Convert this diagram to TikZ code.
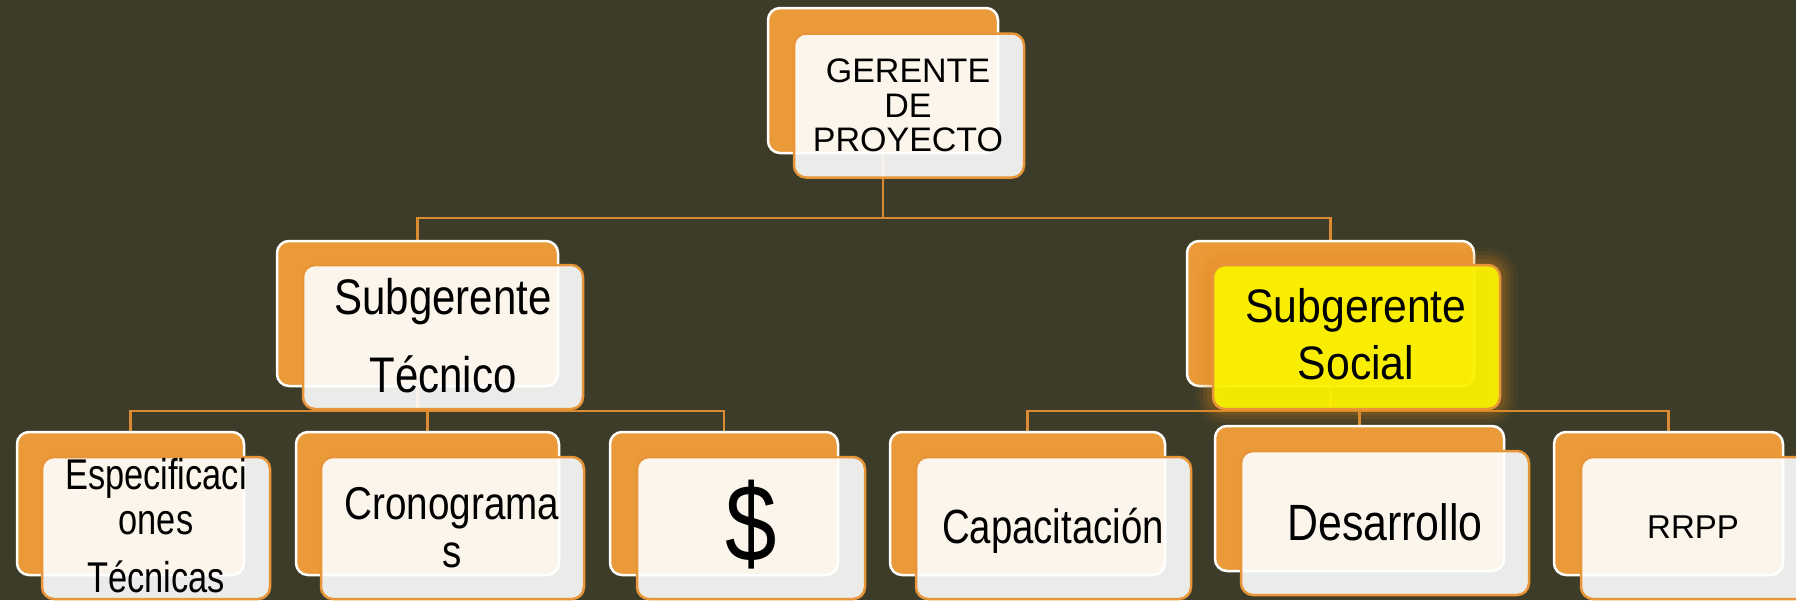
\documentclass[tikz,border=0pt]{standalone}
\usepackage{fontspec}
\setmainfont{Liberation Sans}
\newfontfamily\fA{Liberation Sans}
\newfontfamily\fB[FakeStretch=0.84]{Liberation Sans}
\newfontfamily\fC[FakeStretch=0.91]{Liberation Sans}
\newfontfamily\fD[FakeStretch=0.8]{Liberation Sans}
\definecolor{bgc}{HTML}{3C3C28}
\definecolor{orfill}{HTML}{EA9A38}
\definecolor{orline}{HTML}{E8953A}
\definecolor{conc}{HTML}{DA8A30}
\definecolor{yel}{HTML}{FAF200}
\definecolor{glowc}{HTML}{E88A1A}
\pgfdeclarelayer{backlayer}
\pgfdeclarelayer{connlayer}
\pgfsetlayers{backlayer,connlayer,main}
\tikzset{
  backbox/.style={draw=white, line width=2.5pt, fill=orfill, rounded corners=12pt, inner sep=0pt, minimum height=145pt},
  frontbox/.style={draw=orline, line width=2.5pt, fill=white, fill opacity=0.9, rounded corners=12pt, inner sep=0pt, minimum height=144pt},
  lowback/.style={backbox, minimum height=143pt},
  lowfront/.style={frontbox, minimum height=142pt},
  lbl/.style={inner sep=0pt, anchor=base, text=black},
  conn/.style={draw=conc, line width=2.8pt},
  glowbox/.style={frontbox, fill=yel, fill opacity=0.95,
    preaction={draw=glowc, line width=36pt, draw opacity=0.05},
    preaction={draw=glowc, line width=28pt, draw opacity=0.07},
    preaction={draw=glowc, line width=20pt, draw opacity=0.1},
    preaction={draw=glowc, line width=12pt, draw opacity=0.14}},
}
\begin{document}
\begin{tikzpicture}[x=1pt,y=-1pt]
\useasboundingbox (0,0) rectangle (1796,600);
\begin{pgfonlayer}{backlayer}
\fill[bgc] (0,0) rectangle (1796,600);
\end{pgfonlayer}
\coordinate (bus1) at (0,218);
\coordinate (bus2) at (0,411);
% level 1
\node[backbox, minimum width=230pt] (gb) at (883,80.5) {};
\node[frontbox, minimum width=230pt] (gf) at (909,105.5) {};
\node[lbl, font=\fA\fontsize{34}{34}\selectfont] (g1) at (908,82) {GERENTE};
\node[lbl, font=\fA\fontsize{34}{34}\selectfont] (g2) at (908,117) {DE};
\node[lbl, font=\fA\fontsize{34}{34}\selectfont] (g3) at (908,151) {PROYECTO};
% level 2
\node[backbox, minimum width=281pt] (stb) at (417.5,313.5) {};
\node[frontbox, minimum width=280pt] (stf) at (443,337) {};
\node[lbl, font=\fB\fontsize{50}{50}\selectfont] (st1) at (443,314) {Subgerente};
\node[lbl, font=\fB\fontsize{50}{50}\selectfont] (st2) at (443,392) {Técnico};
\node[backbox, minimum width=287pt] (ssb) at (1330.5,313.5) {};
\node[glowbox, minimum width=287pt] (ssf) at (1356.5,337) {};
\node[lbl, font=\fC\fontsize{47}{47}\selectfont] (ss1) at (1356,322) {Subgerente};
\node[lbl, font=\fC\fontsize{47}{47}\selectfont] (ss2) at (1356,379) {Social};
% level 3
\node[lowback, minimum width=227pt] (eb) at (130.5,503.5) {};
\node[lowfront, minimum width=228pt] (ef) at (156,528) {};
\node[lbl, font=\fD\fontsize{43}{43}\selectfont] (e1) at (156,489) {Especificaci};
\node[lbl, font=\fD\fontsize{43}{43}\selectfont] (e2) at (156,534) {ones};
\node[lbl, font=\fD\fontsize{43}{43}\selectfont] (e3) at (156,592) {Técnicas};
\node[lowback, minimum width=263pt] (cb) at (427.5,503.5) {};
\node[lowfront, minimum width=263pt] (cf) at (452.5,528) {};
\node[lbl, font=\fB\fontsize{46}{46}\selectfont] (c1) at (452,519) {Cronograma};
\node[lbl, font=\fB\fontsize{46}{46}\selectfont] (c2) at (452,567) {s};
\node[lowback, minimum width=228pt] (db) at (724,503.5) {};
\node[lowfront, minimum width=228pt] (df) at (751,528) {};
\node[lbl, font=\fB\fontsize{110}{110}\selectfont] (d1) at (751,561) {\$};
\node[lowback, minimum width=275pt] (capb) at (1027.5,503.5) {};
\node[lowfront, minimum width=275pt] (capf) at (1053.5,528) {};
\node[lbl, font=\fD\fontsize{48}{48}\selectfont] (cap1) at (1053,543) {Capacitación};
\node[backbox, minimum width=289pt] (desb) at (1359.5,498.5) {};
\node[frontbox, minimum width=288pt] (desf) at (1385,523) {};
\node[lbl, font=\fB\fontsize{51}{51}\selectfont] (des1) at (1385,540) {Desarrollo};
\node[lowback, minimum width=229pt] (rrb) at (1668.5,503.5) {};
\node[lowfront, minimum width=228pt] (rrf) at (1695,528) {};
\node[lbl, font=\fA\fontsize{33}{33}\selectfont] (rr1) at (1693,538) {RRPP};
% connectors
\begin{pgfonlayer}{connlayer}
\draw[conn] (gb.south) -- (gb.south |- bus1) -| (stb.north);
\draw[conn] (gb.south |- bus1) -| (ssb.north);
\draw[conn] (stb.south) -- (stb.south |- bus2) -| (eb.north);
\draw[conn] (stb.south |- bus2) -| (cb.north);
\draw[conn] (stb.south |- bus2) -| (db.north);
\draw[conn] (ssb.south) -- (ssb.south |- bus2) -| (capb.north);
\draw[conn] (ssb.south |- bus2) -| (desb.north);
\draw[conn] (ssb.south |- bus2) -| (rrb.north);
\end{pgfonlayer}
\end{tikzpicture}
\end{document}
